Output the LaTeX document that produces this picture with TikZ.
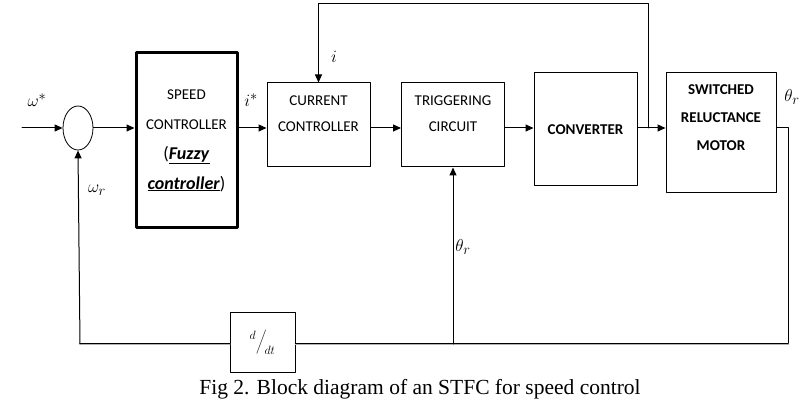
\documentclass[tikz,border=0pt]{standalone}
\usepackage{fontspec}
\setmainfont{Liberation Serif}
\newfontfamily\hopchu{Carlito}
\usetikzlibrary{arrows.meta,positioning,shapes.geometric}

\begin{document}
\begin{tikzpicture}[x=1pt, y=-1pt, line join=round, line cap=round,
	khoi/.style={draw, line width=1pt, align=center, inner sep=0pt,
		font=\hopchu\fontsize{15}{26}\selectfont},
	mui/.style={-{Triangle[length=8pt,width=7pt]}, line width=1pt},
	nhan/.style={font=\fontsize{19}{19}\selectfont}]
	
	\useasboundingbox (0,0) rectangle (806,411);
	
	% Khai báo điểm (gọn)
	\foreach \name/\x/\y in {
		vao/22/128, nhanh/648/128, tren/648/4, ra/788/128, goc/788/344, trai/80/344
	}{
		\coordinate (\name) at (\x,\y);
	}
	
	% Các khối
	\node[draw, ellipse, line width=0.8pt, minimum width=30pt, minimum height=44pt, inner sep=0pt] (tong) at (78,128) {};
	\node[khoi, line width=3pt, minimum width=101pt, minimum height=175pt,
		font=\hopchu\fontsize{15}{30}\selectfont] (tocdo) at (186.5,140.5)
		{SPEED\\CONTROLLER\\{\fontsize{18}{30}\selectfont(\underline{\textbf{\textit{Fuzzy}}}}\\
		{\fontsize{18}{30}\selectfont\underline{\textbf{\textit{controller}}})}};
	\node[khoi, minimum width=103pt, minimum height=84pt, text depth=22pt] (dong) at (318.5,125) {CURRENT\\CONTROLLER};
	\node[khoi, minimum width=103pt, minimum height=84pt, text depth=22pt] (kich) at (453,125) {TRIGGERING\\CIRCUIT};
	\node[khoi, minimum width=103pt, minimum height=113pt, font=\hopchu\bfseries\fontsize{15}{26}\selectfont] (bien) at (585.5,129.5) {CONVERTER};
	\node[khoi, minimum width=110pt, minimum height=120pt, text depth=30pt,
		font=\hopchu\bfseries\fontsize{15}{28}\selectfont] (motor) at (721,133) {SWITCHED\\RELUCTANCE\\MOTOR};
	\node[khoi, line width=0.8pt, minimum width=65pt, minimum height=60pt, font=\fontsize{18}{18}\selectfont] (dao) at (262.5,342) {$^{d}\bigg/_{\!dt}$};
	
	% Vẽ cạnh
	\draw[mui] (vao) -- (tong.west);
	\draw[mui] (tong.east) -- (tong.east -| tocdo.west);
	\draw[mui] (tong.east -| tocdo.east) -- (tong.east -| dong.west);
	\draw[mui] (tong.east -| dong.east) -- (tong.east -| kich.west);
	\draw[mui] (tong.east -| kich.east) -- (tong.east -| bien.west);
	\draw[mui] (tong.east -| bien.east) -- (tong.east -| motor.west);
	\draw[mui] (nhanh) -- (tren) -- (tren -| dong.north) -- (dong.north);
	
	% Hồi tiếp
	\draw[line width=1pt] (ra -| motor.east) -- (ra) -- (goc);
	\draw[line width=2pt, gray!60, yshift=-1.5pt] (goc) -- (dao.east |- goc) (dao.west |- goc) -- (trai);
	\draw[line width=1pt] (goc) -- (dao.east |- goc) (dao.west |- goc) -- (trai);
	\draw[mui] (trai) -- (tong.south);
	\draw[mui] (kich.south |- goc) -- (kich.south);
	
	% Nhãn
	\node[nhan] (lw) at (37,100) {$\omega^*$};
	\node[nhan] (li) at (251,100) {$i^*$};
	\node[nhan] (lii) at (334,57) {$i$};
	\node[nhan] (lt) at (792,97) {$\theta_r$};
	\node[nhan] (lwr) at (97,190) {$\omega_r$};
	\node[nhan] (ltr) at (463,247) {$\theta_r$};
	
	\node[font=\fontsize{21.5}{21.5}\selectfont] (chu) at (420,389) {Fig 2. Block diagram of an STFC for speed control};
\end{tikzpicture}
\end{document}
